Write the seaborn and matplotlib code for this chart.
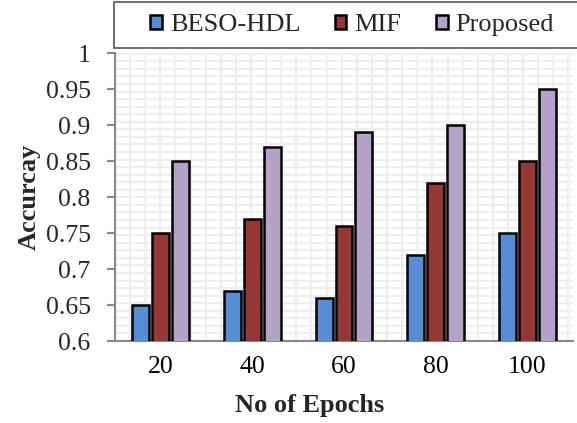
import matplotlib
matplotlib.use("Agg")
import matplotlib.pyplot as plt
import matplotlib.patches as mpatches
import seaborn as sns
import pandas as pd
import numpy as np
from matplotlib.ticker import FuncFormatter, FixedLocator

epochs = ["20", "40", "60", "80", "100"]
beso_hdl = [0.65, 0.67, 0.66, 0.72, 0.75]
mif = [0.75, 0.77, 0.76, 0.82, 0.85]
proposed = [0.85, 0.87, 0.89, 0.90, 0.95]
series_names = ["BESO-HDL", "MIF", "Proposed"]
colors = ["#558ED5", "#953735", "#B3A2C7"]
y_ticks = [0.6, 0.65, 0.7, 0.75, 0.8, 0.85, 0.9, 0.95, 1.0]

df = pd.DataFrame({
    "Epochs": epochs * 3,
    "Accuracy": beso_hdl + mif + proposed,
    "Method": sum([[n] * len(epochs) for n in series_names], []),
})

sns.set_style("white")
plt.rcParams["font.family"] = ["Liberation Serif", "DejaVu Serif"]

fig = plt.figure(figsize=(5.77, 4.23), dpi=100)
W, H = 577, 423
ax = fig.add_axes([115 / W, 1 - 341 / H, (573 - 115) / W, (341 - 53) / H])

# background grid texture
for xv in np.arange(-0.5, 4.5, 0.165):
    ax.axvline(xv, color="#eeeeee", lw=1.6, zorder=0)
for yv in np.arange(0.6, 1.0, 0.0105):
    ax.axhline(yv, color="#eeeeee", lw=1.6, zorder=0)

sns.barplot(data=df, x="Epochs", y="Accuracy", hue="Method", palette=colors,
            saturation=1, width=0.655, gap=0.15, edgecolor="black", linewidth=1.8,
            ax=ax, zorder=3, legend=True)

ax.set_ylim(0.6, 1.0)
ax.set_xlim(-0.5, 4.5)
ax.yaxis.set_major_locator(FixedLocator(y_ticks))
ax.yaxis.set_major_formatter(FuncFormatter(lambda v, p: f"{v:g}"))
ax.set_xticks(range(len(epochs)))
ax.set_xticklabels(epochs)
ax.set_xticks(np.arange(-0.5, 5, 1.0), minor=True)
ax.tick_params(axis="x", which="major", length=0, pad=11, labelsize=18.5, colors="black")
ax.tick_params(axis="x", which="minor", length=6, width=1.5, color="#888888", direction="out")
ax.tick_params(axis="y", which="major", length=5.5, width=1.5, color="#888888", pad=12,
               labelsize=18.5, direction="out", left=True)
for s in ["top", "right"]:
    ax.spines[s].set_visible(False)
for s in ["left", "bottom"]:
    ax.spines[s].set_color("#888888")
    ax.spines[s].set_linewidth(1.5)

ax.set_xlabel("No of Epochs", fontsize=19, fontweight="bold")
ax.xaxis.set_label_coords(0.426, -0.185)
ax.set_ylabel("Accurcay", fontsize=19, fontweight="bold")
ax.yaxis.set_label_coords(-0.163, 0.5)

# legend frame box
fig.patches.append(mpatches.Rectangle((114 / W, 1 - 48 / H), (600 - 114) / W, 46 / H,
                                      transform=fig.transFigure, facecolor="white",
                                      edgecolor="#555555", lw=1.2, zorder=0))

handles, labels = ax.get_legend_handles_labels()
ax.get_legend().remove()
leg = fig.legend(handles, labels, loc="center", ncol=3,
                 bbox_to_anchor=(352 / W, 1 - 25 / H),
                 fontsize=19, frameon=False,
                 handlelength=0.45, handleheight=0.45, handletextpad=0.3,
                 columnspacing=1.3, borderaxespad=0)

fig.savefig("out.png", dpi=100)
